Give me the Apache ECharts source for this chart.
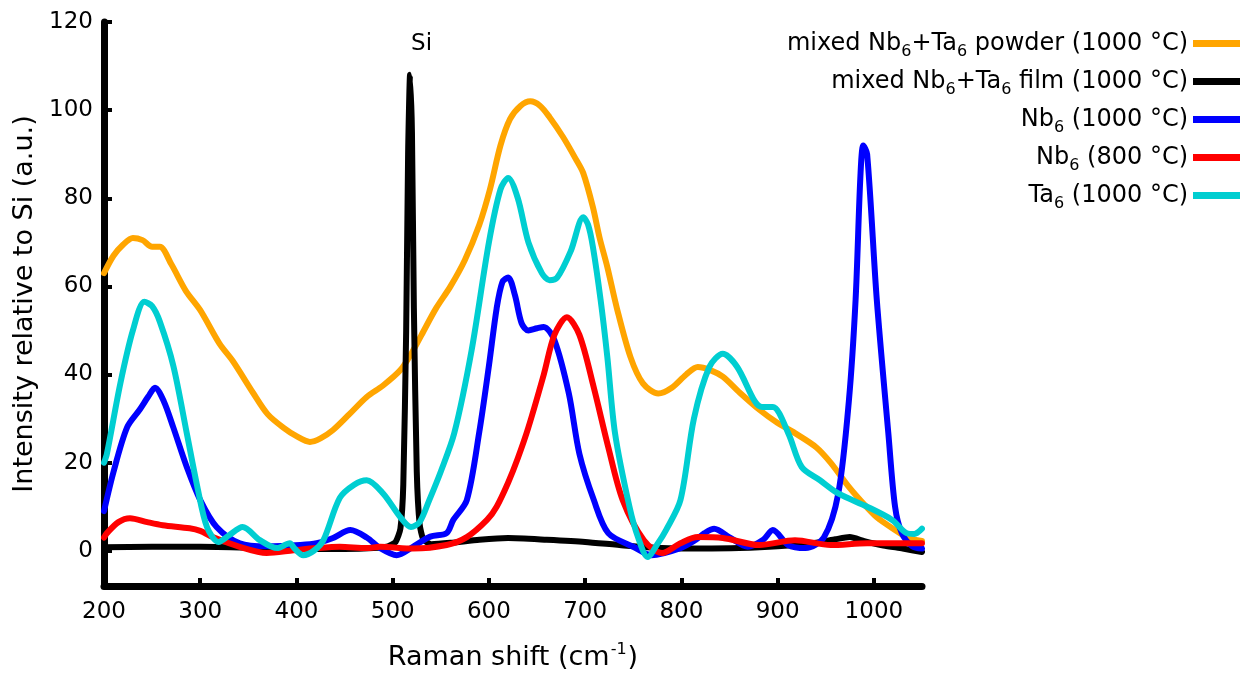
<!DOCTYPE html>
<html>
<head>
<meta charset="utf-8">
<script src="https://cdn.jsdelivr.net/npm/echarts@6/dist/echarts.min.js"></script>
<style>
  html, body { margin: 0; padding: 0; background: #fff; }
  #chart { width: 1253px; height: 682px; }
</style>
</head>
<body>
<div id="chart"></div>
<script>
// Raman spectra: [shift (cm-1), intensity relative to Si]
const seriesNames = [
  'mixed Nb6+Ta6 powder (1000 °C)',
  'mixed Nb6+Ta6 film (1000 °C)',
  'Nb6 (1000 °C)',
  'Nb6 (800 °C)',
  'Ta6 (1000 °C)'
];
const seriesColors = ['#FFA500', '#000000', '#0000FF', '#FF0000', '#00CED1'];

const powder1000 = [
  [200,63],[210,67],[220,69.5],[230,71],[240,70.5],[250,69],[258,69],[270,65],[285,59],
  [300,54.6],[320,47],[334,43],[355,35.8],[370,31],[386,28],[400,26],[414,24.7],[425,25.5],
  [438,27.4],[455,31],[473,34.9],[490,37.5],[508,41],[520,45],[530,49],[545,55],[560,60],
  [575,66],[590,74],[601,82],[612,92],[622,98],[633,101],[643,102],[653,101],[663,98.4],
  [677,93.9],[690,89],[698,85.7],[708,78],[715,71],[723,64.4],[733,55],[747,44],[760,38],
  [776,35.7],[790,37],[805,40],[817,41.7],[830,41],[843,39.5],[860,36],[881,32],[900,29],
  [918,26.7],[940,23.5],[955,20],[974,14.5],[990,10.5],[1003,7.6],[1020,5],[1035,3],[1050,2.2]
];
const film1000 = [
  [200,0.8],[250,0.9],[300,0.9],[350,0.7],[400,0.4],[450,0.4],[480,0.6],[495,1],[503,2],
  [508,5],[511,15],[514,50],[516,90],[518,108],[520,95],[522,55],[525,18],[528,6],[532,2.5],
  [540,1.5],[560,1.8],[590,2.5],[620,2.9],[660,2.5],[700,2],[740,1.2],[780,0.6],[820,0.5],
  [860,0.6],[900,1],[940,1.8],[960,2.6],[975,3.1],[990,2.2],[1010,1.2],[1030,0.5],[1050,-0.3]
];
const nb1000 = [
  [200,9],[210,18],[224,28],[237,32],[246,35],[253,37],[262,34],[272,28],[286,19],[300,11.5],
  [317,5.4],[341,1.7],[369,1.0],[404,1.3],[421,1.7],[438,2.9],[456,4.7],[473,3],[487,0.6],
  [504,-1],[521,0.9],[539,3.2],[556,4],[563,7],[577,11.5],[590,27],[600,42],[608,55],[614,61],
  [620,62],[627,58],[634,51.6],[641,50],[650,50.5],[657,50.8],[668,47.8],[683,35.7],[694,22],
  [709,11.5],[724,4],[750,0.9],[769,-1],[799,0.6],[815,2.5],[824,4],[834,5],[851,2.9],
  [869,0.9],[885,2.5],[895,4.7],[911,1.3],[929,0.6],[948,3],[963,13],[974,34],[981,57],
  [986,85],[989,92],[993,90],[1003,57],[1015,26.7],[1022,10],[1029,4],[1040,1],[1050,0.5]
];
const nb800 = [
  [200,3],[203,4],[215,6.5],[227,7.4],[245,6.5],[261,5.8],[289,5.1],[300,4.5],[313,3.1],
  [341,0.9],[369,-0.5],[397,0.1],[421,0.6],[445,0.9],[473,0.6],[487,0.9],[521,0.5],[556,1.3],
  [577,3.1],[598,7],[608,10],[620,15.5],[630,21],[641,28],[657,40],[668,49],[681,53],[694,49],
  [709,37],[724,23.5],[739,11.5],[761,2.4],[780,-0.5],[799,1.7],[817,3.1],[843,2.9],
  [881,1.3],[918,2.4],[955,1.3],[993,1.7],[1050,1.7]
];
const ta1000 = [
  [200,20],[203,22],[217,38],[230,50],[242,56.5],[250,55.5],[258,52],[272,42],[286,26.7],
  [297,14.5],[307,5.4],[319,2],[330,3.5],[344,5.4],[362,2.4],[380,0.6],[393,1.7],[398,0.5],
  [407,-1],[418,0],[428,2.4],[445,12],[460,15],[473,16],[490,13],[508,7.6],[519,5.4],
  [528,6.5],[538,11.5],[550,18],[564,26.7],[582,45.5],[600,70],[612,82],[620,84.6],[630,80],
  [641,70],[655,63],[663,61.4],[671,62],[685,68],[698,75.7],[703,74],[708,69],[716,57],
  [723,44],[731,26.7],[746,10],[755,3],[765,-1.4],[775,1.5],[784,4.7],[799,11.5],[813,30],
  [829,41.7],[843,44.7],[858,41.7],[876,34],[884,32.6],[895,32.6],[911,26.7],[925,19],
  [944,16],[963,13],[993,10],[1019,7],[1034,4],[1042,3.8],[1050,5]
];
const seriesData = [powder1000, film1000, nb1000, nb800, ta1000];

const xTicks = [200, 300, 400, 500, 600, 700, 800, 900, 1000];
const yTicks = [0, 20, 40, 60, 80, 100, 120];
const siPeakLabel = { text: 'Si', coord: [530, 115] };

const FONT = 'DejaVu Sans';
const chart = echarts.init(document.getElementById('chart'), null, { renderer: 'canvas' });

const series = seriesNames.map((name, i) => ({
  name: name,
  type: 'line',
  data: seriesData[i],
  showSymbol: false,
  smooth: i === 1 ? 0.2 : 0.3,
  lineStyle: { color: seriesColors[i], width: 6, join: 'round', cap: 'round' },
  itemStyle: { color: seriesColors[i] },
  emphasis: { disabled: true },
  animation: false,
  z: 2 + i
}));

// "Si" marker over the film's silicon peak
series[1].markPoint = {
  symbol: 'circle',
  symbolSize: 0,
  silent: true,
  data: [{ coord: siPeakLabel.coord }],
  label: {
    show: true,
    formatter: siPeakLabel.text,
    fontFamily: FONT,
    fontSize: 23,
    color: '#000',
    position: 'inside'
  }
};

chart.setOption({
  animation: false,
  backgroundColor: '#fff',
  grid: { left: 104, right: 331, top: 22, bottom: 96 },
  legend: {
    orient: 'vertical',
    right: 8,
    top: 22,
    align: 'right',
    icon: 'rect',
    itemWidth: 47,
    itemHeight: 7,
    itemGap: 5,
    selectedMode: false,
    data: seriesNames,
    formatter: name => name.replace(/(Nb|Ta)6/g, '$1{sub|6}'),
    textStyle: {
      fontFamily: FONT,
      fontSize: 24,
      color: '#000',
      rich: {
        sub: { fontFamily: FONT, fontSize: 16, lineHeight: 16, padding: [17, 0, 0, 0], color: '#000' }
      }
    }
  },
  xAxis: {
    type: 'value',
    min: 200,
    max: 1050,
    name: 'Raman shift (cm{sup|-1})',
    nameLocation: 'middle',
    nameGap: 58,
    nameTextStyle: {
      fontFamily: FONT,
      fontSize: 27,
      color: '#000',
      rich: {
        sup: { fontFamily: FONT, fontSize: 16, lineHeight: 16, padding: [0, 1, 16, 1], color: '#000' }
      }
    },
    axisLine: { onZero: false, lineStyle: { color: '#000', width: 7 } },
    axisTick: { inside: true, length: 8, customValues: xTicks, lineStyle: { color: '#000', width: 4 } },
    axisLabel: {
      customValues: xTicks,
      formatter: v => String(v),
      fontFamily: FONT, fontSize: 23, color: '#000', margin: 15
    },
    splitLine: { show: false }
  },
  yAxis: {
    type: 'value',
    min: -8,
    max: 120,
    name: 'Intensity relative to Si (a.u.)',
    nameLocation: 'middle',
    nameGap: 60,
    nameTextStyle: { fontFamily: FONT, fontSize: 27, color: '#000' },
    axisLine: { onZero: false, lineStyle: { color: '#000', width: 7 } },
    axisTick: { inside: true, length: 8, customValues: yTicks, lineStyle: { color: '#000', width: 4 } },
    axisLabel: {
      customValues: yTicks,
      formatter: v => String(v),
      fontFamily: FONT, fontSize: 23, color: '#000', margin: 11
    },
    splitLine: { show: false }
  },
  series: series
});
</script>
</body>
</html>
